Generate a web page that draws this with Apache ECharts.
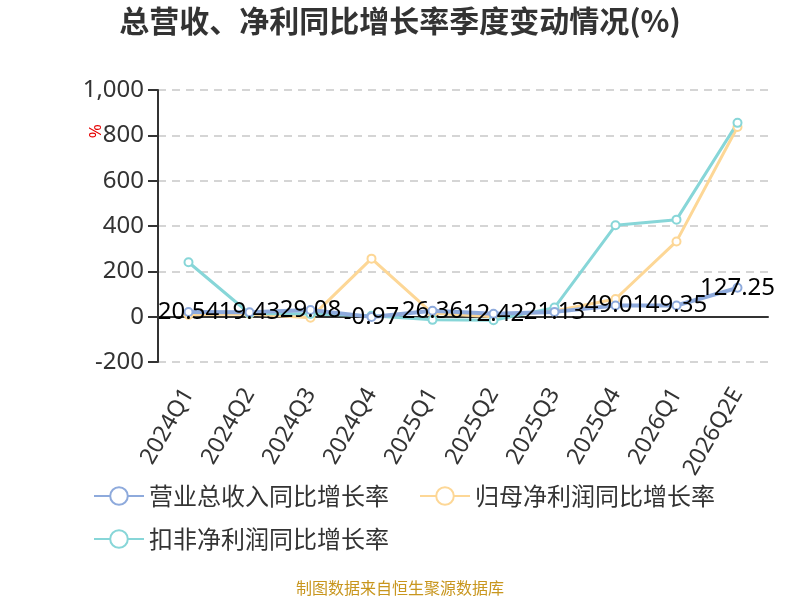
<!DOCTYPE html>
<html>
<head>
<meta charset="utf-8">
<script src="https://cdn.jsdelivr.net/npm/echarts@6/dist/echarts.min.js"></script>
<style>
html,body{margin:0;padding:0;background:#fff;}
#chart{width:800px;height:600px;}
</style>
</head>
<body>
<div id="chart"></div>
<script>
// 季度
var categories = ['2024Q1','2024Q2','2024Q3','2024Q4','2025Q1','2025Q2','2025Q3','2025Q4','2026Q1','2026Q2E'];
// 营业总收入同比增长率
var revenueGrowth = [20.54, 19.43, 29.08, -0.97, 26.36, 12.42, 21.13, 49.01, 49.35, 127.25];
// 归母净利润同比增长率
var netProfitGrowth = [8, 12, -5, 256, 15, 0, 25, 78, 332, 837];
// 扣非净利润同比增长率
var deductedProfitGrowth = [240, 14, 12, 4, -14, -16, 40, 403, 428, 855];
var yTicks = { min: -200, max: 1000, interval: 200 };

var fontFamily = '"Noto Sans", "Noto Sans CJK SC", sans-serif';
var cjkFont = '"Noto Sans CJK SC", sans-serif';

window.onload = function() {
	var myChart = echarts.init(document.getElementById('chart'));
	var legendText = { fontSize: 24, color: '#333', fontFamily: cjkFont };
	var option = {
		backgroundColor: '#fff',
		textStyle: { fontFamily: fontFamily },
		title: {
			text: '总营收、净利同比增长率季度变动情况(%)',
			left: 'center',
			top: 1,
			textStyle: { fontSize: 30, fontWeight: 'bold', color: '#333', fontFamily: cjkFont }
		},
		color: ['#8eaadc', '#fdd796', '#87d6d8'],
		legend: [{
			left: 88,
			top: 479,
			itemWidth: 50,
			itemHeight: 22,
			itemGap: 30,
			textStyle: legendText,
			data: ['营业总收入同比增长率', '归母净利润同比增长率']
		}, {
			left: 88,
			top: 522,
			itemWidth: 50,
			itemHeight: 22,
			textStyle: legendText,
			data: ['扣非净利润同比增长率']
		}],
		grid: { left: 158, right: 32, top: 90, bottom: 238 },
		xAxis: {
			type: 'category',
			data: categories,
			axisLine: { onZero: true, lineStyle: { color: '#333', width: 2 } },
			axisTick: { length: 8, lineStyle: { color: '#333', width: 2 } },
			axisLabel: { rotate: 60, margin: 28, fontSize: 23, color: '#333', fontFamily: fontFamily }
		},
		yAxis: {
			type: 'value',
			min: yTicks.min,
			max: yTicks.max,
			interval: yTicks.interval,
			axisLine: { show: true, lineStyle: { color: '#333', width: 2 } },
			axisTick: { show: true, length: 10, lineStyle: { color: '#333', width: 2 } },
			axisLabel: { fontSize: 24, color: '#333', margin: 14, fontFamily: fontFamily },
			splitLine: { lineStyle: { type: [8, 6], color: '#c8c8c8', width: 1.5 } }
		},
		graphic: [{
			type: 'text',
			left: 88,
			top: 124,
			rotation: Math.PI / 2,
			style: { text: '%', fill: '#e60000', fontSize: 17, fontFamily: fontFamily }
		}, {
			type: 'text',
			left: 'center',
			top: 580,
			style: { text: '制图数据来自恒生聚源数据库', fill: '#c8961e', fontSize: 16, fontFamily: cjkFont }
		}],
		series: [{
			name: '营业总收入同比增长率',
			type: 'line',
			data: revenueGrowth,
			symbol: 'emptyCircle',
			symbolSize: 8,
			lineStyle: { width: 4 },
			z: 3,
			label: {
				show: true,
				position: 'inside',
				fontSize: 24,
				color: '#000',
				fontFamily: fontFamily
			}
		}, {
			name: '归母净利润同比增长率',
			type: 'line',
			data: netProfitGrowth,
			symbol: 'emptyCircle',
			symbolSize: 8,
			lineStyle: { width: 3 },
			z: 2
		}, {
			name: '扣非净利润同比增长率',
			type: 'line',
			data: deductedProfitGrowth,
			symbol: 'emptyCircle',
			symbolSize: 8,
			lineStyle: { width: 3 },
			z: 2
		}]
	};
	myChart.setOption(option);
}
</script>
</body>
</html>
